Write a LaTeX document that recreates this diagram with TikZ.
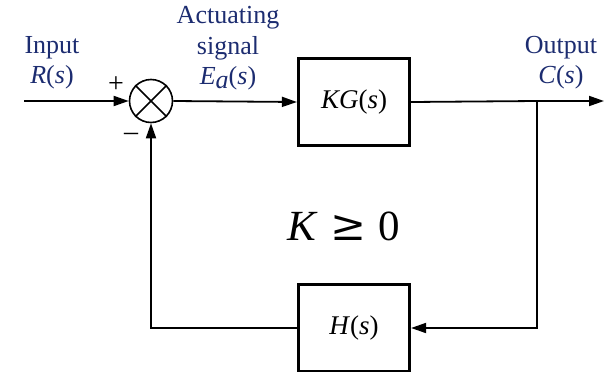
\documentclass[tikz,border=0pt]{standalone}
\usepackage{fontspec}
\setmainfont{Liberation Serif}
\newfontfamily\symfont{DejaVu Serif}
\usetikzlibrary{arrows.meta}
\definecolor{navy}{RGB}{28,44,112}
\tikzset{
  block/.style={draw, line width=3.2pt, minimum width=111pt, minimum height=87pt, font=\fontsize{27}{30}\selectfont},
  sig/.style={line width=1.8pt, -{Triangle[length=15pt,width=10pt]}},
  lbl/.style={text=navy, font=\fontsize{26}{28}\selectfont, inner sep=0pt, align=center}
}
\begin{document}
\begin{tikzpicture}[x=1pt,y=-1pt]
    \useasboundingbox (0,0) rectangle (611,372);

    \node[block] at (354,102) (KG) {\textit{KG}(\textit{s})};
    \node[block] at (354,328) (H) {\textit{H}(\textit{s})};
    \node[draw, circle, line width=1.6pt, minimum size=43pt, inner sep=0pt] at (151,101) (sum) {};
    \draw[line width=1.6pt] (sum.north west) -- (sum.south east);
    \draw[line width=1.6pt] (sum.north east) -- (sum.south west);

    \coordinate (in) at (24,101);
    \coordinate (tap) at (537,101);
    \coordinate (out) at (604,101);

    \draw[sig] (in) -- (sum.west);
    \draw[sig] (sum.east) -- (KG.west);
    \draw[line width=1.8pt] (KG.east) -- (tap);
    \draw[sig] (tap) -- (out);
    \draw[sig] (tap) |- (H.east);
    \draw[sig] (H.west) -| (sum.south);

    \node[lbl] at (52,48) (inp) {Input};
    \node[lbl] at (52,77) (R) {\textit{R}(\textit{s})};
    \node[lbl] at (228,18) (act) {Actuating};
    \node[lbl] at (228,48) (sgn) {signal};
    \node[lbl] at (228,78) (E) {\textit{E}\raisebox{-0.35ex}{\textit{a}}(\textit{s})};
    \node[lbl] at (561,48) (outp) {Output};
    \node[lbl] at (561,77) (C) {\textit{C}(\textit{s})};

    \node[font=\fontsize{28}{30}\selectfont, inner sep=0pt] at (116,85) (plus) {+};
    \node[font=\fontsize{28}{30}\selectfont, inner sep=0pt] at (131,137) (minus) {\textendash};

    \node[font=\fontsize{43}{48}\selectfont, inner sep=0pt] at (344,226) (cond) {\textit{K}\hspace{12pt}{\symfont ≥}\hspace{12pt}0};
\end{tikzpicture}
\end{document}
